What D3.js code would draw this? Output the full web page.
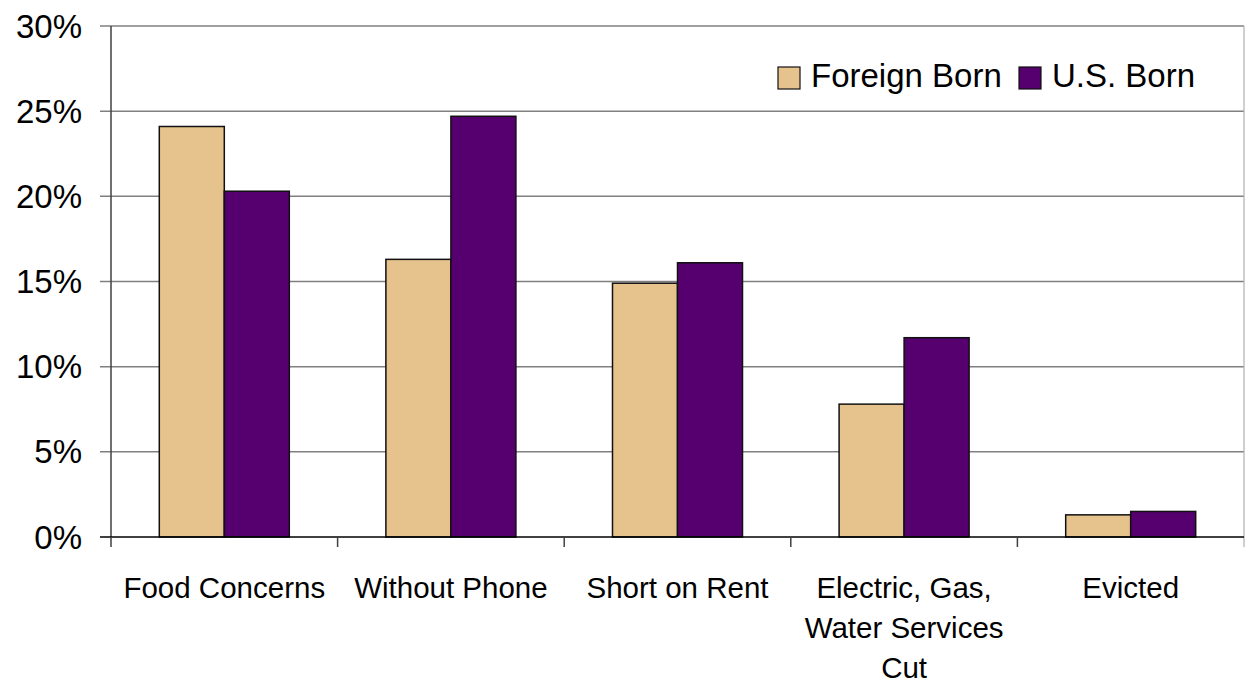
<!DOCTYPE html>
<html>
<head>
<meta charset="utf-8">
<script src="https://cdn.jsdelivr.net/npm/d3@7"></script>
<style>
  html, body { margin: 0; padding: 0; background: #fff; }
  svg { display: block; font-family: "Liberation Sans", Arial, sans-serif; }
</style>
</head>
<body>
<svg id="chart" width="1245" height="683"></svg>
<script>
// Hardship indicators by nativity (share of households)
const categories = [
  ["Food Concerns"],
  ["Without Phone"],
  ["Short on Rent"],
  ["Electric, Gas,", "Water Services", "Cut"],
  ["Evicted"]
];
const seriesNames = ["Foreign Born", "U.S. Born"];
const foreignBorn = [0.241, 0.163, 0.149, 0.078, 0.013];
const usBorn      = [0.203, 0.247, 0.161, 0.117, 0.015];
const yTicks = [0, 0.05, 0.10, 0.15, 0.20, 0.25, 0.30];
const colors = ["#E6C38D", "#560070"];

const svg = d3.select("#chart");
const plotLeft = 111, plotRight = 1244, plotTop = 26, plotBottom = 537;

const catKeys = categories.map(c => c.join(" "));
const x0 = d3.scaleBand().domain(catKeys).range([plotLeft, plotRight]).padding(0);
const x1 = d3.scaleBand().domain(seriesNames).range([0, x0.bandwidth()])
  .paddingInner(0).paddingOuter(0.743);
const y = d3.scaleLinear().domain([0, 0.30]).range([plotBottom, plotTop]);

// horizontal gridlines
svg.append("g").selectAll("line").data(yTicks.filter(d => d > 0)).join("line")
  .attr("x1", 100).attr("x2", plotRight)
  .attr("y1", d => y(d)).attr("y2", d => y(d))
  .attr("stroke", "#808080").attr("stroke-width", 1.5);

// right edge of plot area
svg.append("line")
  .attr("x1", plotRight).attr("x2", plotRight).attr("y1", plotTop).attr("y2", plotBottom + 10)
  .attr("stroke", "#b0b0b0").attr("stroke-width", 1.2);

// y axis labels
svg.append("g").selectAll("text").data(yTicks).join("text")
  .attr("x", 82).attr("y", d => y(d))
  .attr("text-anchor", "end").attr("dominant-baseline", "central")
  .attr("font-size", 33).attr("fill", "#000")
  .text(d => d3.format(".0%")(d));

// bars
const rows = catKeys.map((k, i) => ({ key: k, values: [foreignBorn[i], usBorn[i]] }));
const groups = svg.append("g").selectAll("g").data(rows).join("g")
  .attr("transform", d => `translate(${x0(d.key)},0)`);
groups.selectAll("rect").data(d => d.values.map((v, j) => ({ s: seriesNames[j], v, j }))).join("rect")
  .attr("x", d => x1(d.s))
  .attr("width", x1.bandwidth())
  .attr("y", d => y(d.v))
  .attr("height", d => y(0) - y(d.v))
  .attr("fill", d => colors[d.j])
  .attr("stroke", "#111").attr("stroke-width", 1.5);

// y axis line
svg.append("line")
  .attr("x1", plotLeft).attr("x2", plotLeft).attr("y1", plotTop).attr("y2", plotBottom)
  .attr("stroke", "#404040").attr("stroke-width", 1.5);

// baseline
svg.append("line")
  .attr("x1", 100).attr("x2", plotRight).attr("y1", plotBottom).attr("y2", plotBottom)
  .attr("stroke", "#000").attr("stroke-width", 1.5);

// category tick marks
const tickXs = catKeys.map(k => x0(k));
svg.append("g").selectAll("line").data(tickXs).join("line")
  .attr("x1", d => d).attr("x2", d => d)
  .attr("y1", plotBottom).attr("y2", plotBottom + 10)
  .attr("stroke", "#404040").attr("stroke-width", 1.5);

// category labels
const labels = svg.append("g").selectAll("text").data(categories).join("text")
  .attr("x", (d, i) => x0(catKeys[i]) + x0.bandwidth() / 2)
  .attr("y", 598)
  .attr("text-anchor", "middle")
  .attr("font-size", 29.5).attr("fill", "#000");
labels.selectAll("tspan").data(d => d).join("tspan")
  .attr("x", function () { return d3.select(this.parentNode).attr("x"); })
  .attr("dy", (d, i) => i === 0 ? 0 : 40)
  .text(d => d);

// legend
const legendItems = [{ name: seriesNames[0], x: 778 }, { name: seriesNames[1], x: 1019 }];
const lg = svg.append("g").selectAll("g").data(legendItems).join("g");
lg.append("rect")
  .attr("x", d => d.x).attr("y", 67).attr("width", 22).attr("height", 22)
  .attr("fill", (d, i) => colors[i]).attr("stroke", "#111").attr("stroke-width", 1.2);
lg.append("text")
  .attr("x", d => d.x + 33).attr("y", 87)
  .attr("font-size", 33).attr("fill", "#000")
  .text(d => d.name);
</script>
</body>
</html>
